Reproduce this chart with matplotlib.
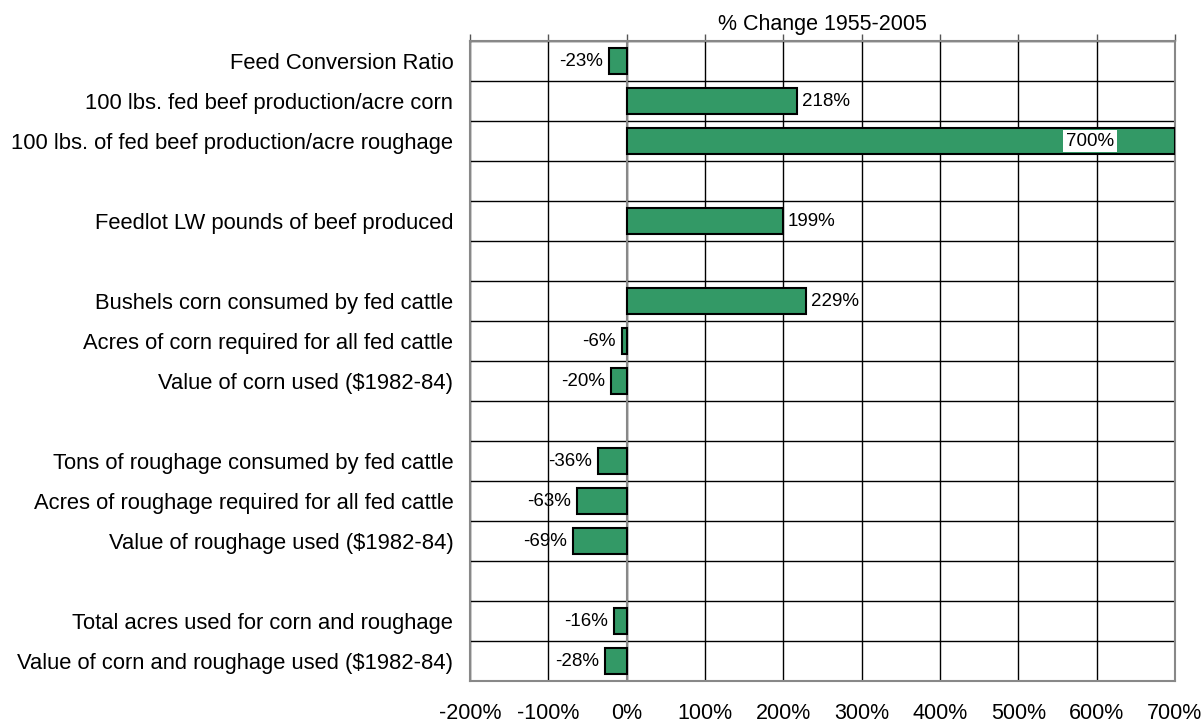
import numpy as np
import matplotlib.pyplot as plt
from matplotlib.ticker import FixedLocator, FuncFormatter

plt.rcParams['font.family'] = ['Liberation Sans', 'DejaVu Sans']

# rows top to bottom, '' = spacer row
labels = ["Feed Conversion Ratio",
          "100 lbs. fed beef production/acre corn",
          "100 lbs. of fed beef production/acre roughage",
          "",
          "Feedlot LW pounds of beef produced",
          "",
          "Bushels corn consumed by fed cattle",
          "Acres of corn required for all fed cattle",
          "Value of corn used ($1982-84)",
          "",
          "Tons of roughage consumed by fed cattle",
          "Acres of roughage required for all fed cattle",
          "Value of roughage used ($1982-84)",
          "",
          "Total acres used for corn and roughage",
          "Value of corn and roughage used ($1982-84)"]
pct_change = [-23, 218, 700, None, 199, None, 229, -6, -20, None,
              -36, -63, -69, None, -16, -28]
x_ticks = [-200, -100, 0, 100, 200, 300, 400, 500, 600, 700]

fig = plt.figure(figsize=(12.03, 7.22), dpi=100)
ax = fig.add_axes([470/1203, 1 - 681/722, 705/1203, 640/722])

ypos = np.arange(len(labels))
has = [v is not None for v in pct_change]
bar_y = [y for y, h in zip(ypos, has) if h]
bar_v = [v for v in pct_change if v is not None]

ax.barh(bar_y, bar_v, height=0.65, color='#339966',
        edgecolor='black', linewidth=1.5, zorder=3)

for y, v in zip(bar_y, bar_v):
    txt = f"{v}%"
    if v >= 700:
        ax.annotate(txt, xy=(v, y), xytext=(-85, 0), textcoords='offset pixels',
                    ha='center', va='center', fontsize=13.5, zorder=5,
                    bbox=dict(facecolor='white', edgecolor='none', pad=2))
    elif v >= 0:
        ax.annotate(txt, xy=(v, y), xytext=(5, 0), textcoords='offset pixels',
                    ha='left', va='center', fontsize=13.5)
    else:
        ax.annotate(txt, xy=(v, y), xytext=(-6, 0), textcoords='offset pixels',
                    ha='right', va='center', fontsize=13.5)

ax.set_xlim(-200, 700)
ax.set_ylim(len(labels) - 0.5, -0.5)
ax.set_yticks(ypos)
ax.set_yticklabels(labels, fontsize=15.8)
ax.yaxis.set_minor_locator(FixedLocator(np.arange(len(labels) + 1) - 0.5))
ax.tick_params(axis='y', which='both', length=0, pad=12)

ax.set_xticks(x_ticks)
ax.xaxis.set_major_formatter(FuncFormatter(lambda v, p: f"{int(v)}%"))
ax.tick_params(axis='x', which='major', labelsize=15.5, bottom=False, top=True,
               labelbottom=True, labeltop=False, direction='out', length=5,
               width=1, color='#555555', pad=11)

ax.grid(axis='x', which='major', color='black', linewidth=1.0, zorder=1)
ax.grid(axis='y', which='minor', color='black', linewidth=1.0, zorder=1)
ax.set_axisbelow(True)
for s in ax.spines.values():
    s.set_color('#888888')
    s.set_linewidth(1.5)
ax.axvline(0, color='#888888', linewidth=1.5, zorder=2)

ax.set_title("% Change 1955-2005", fontsize=15.5, pad=8)

fig.savefig("out.png", dpi=100)
